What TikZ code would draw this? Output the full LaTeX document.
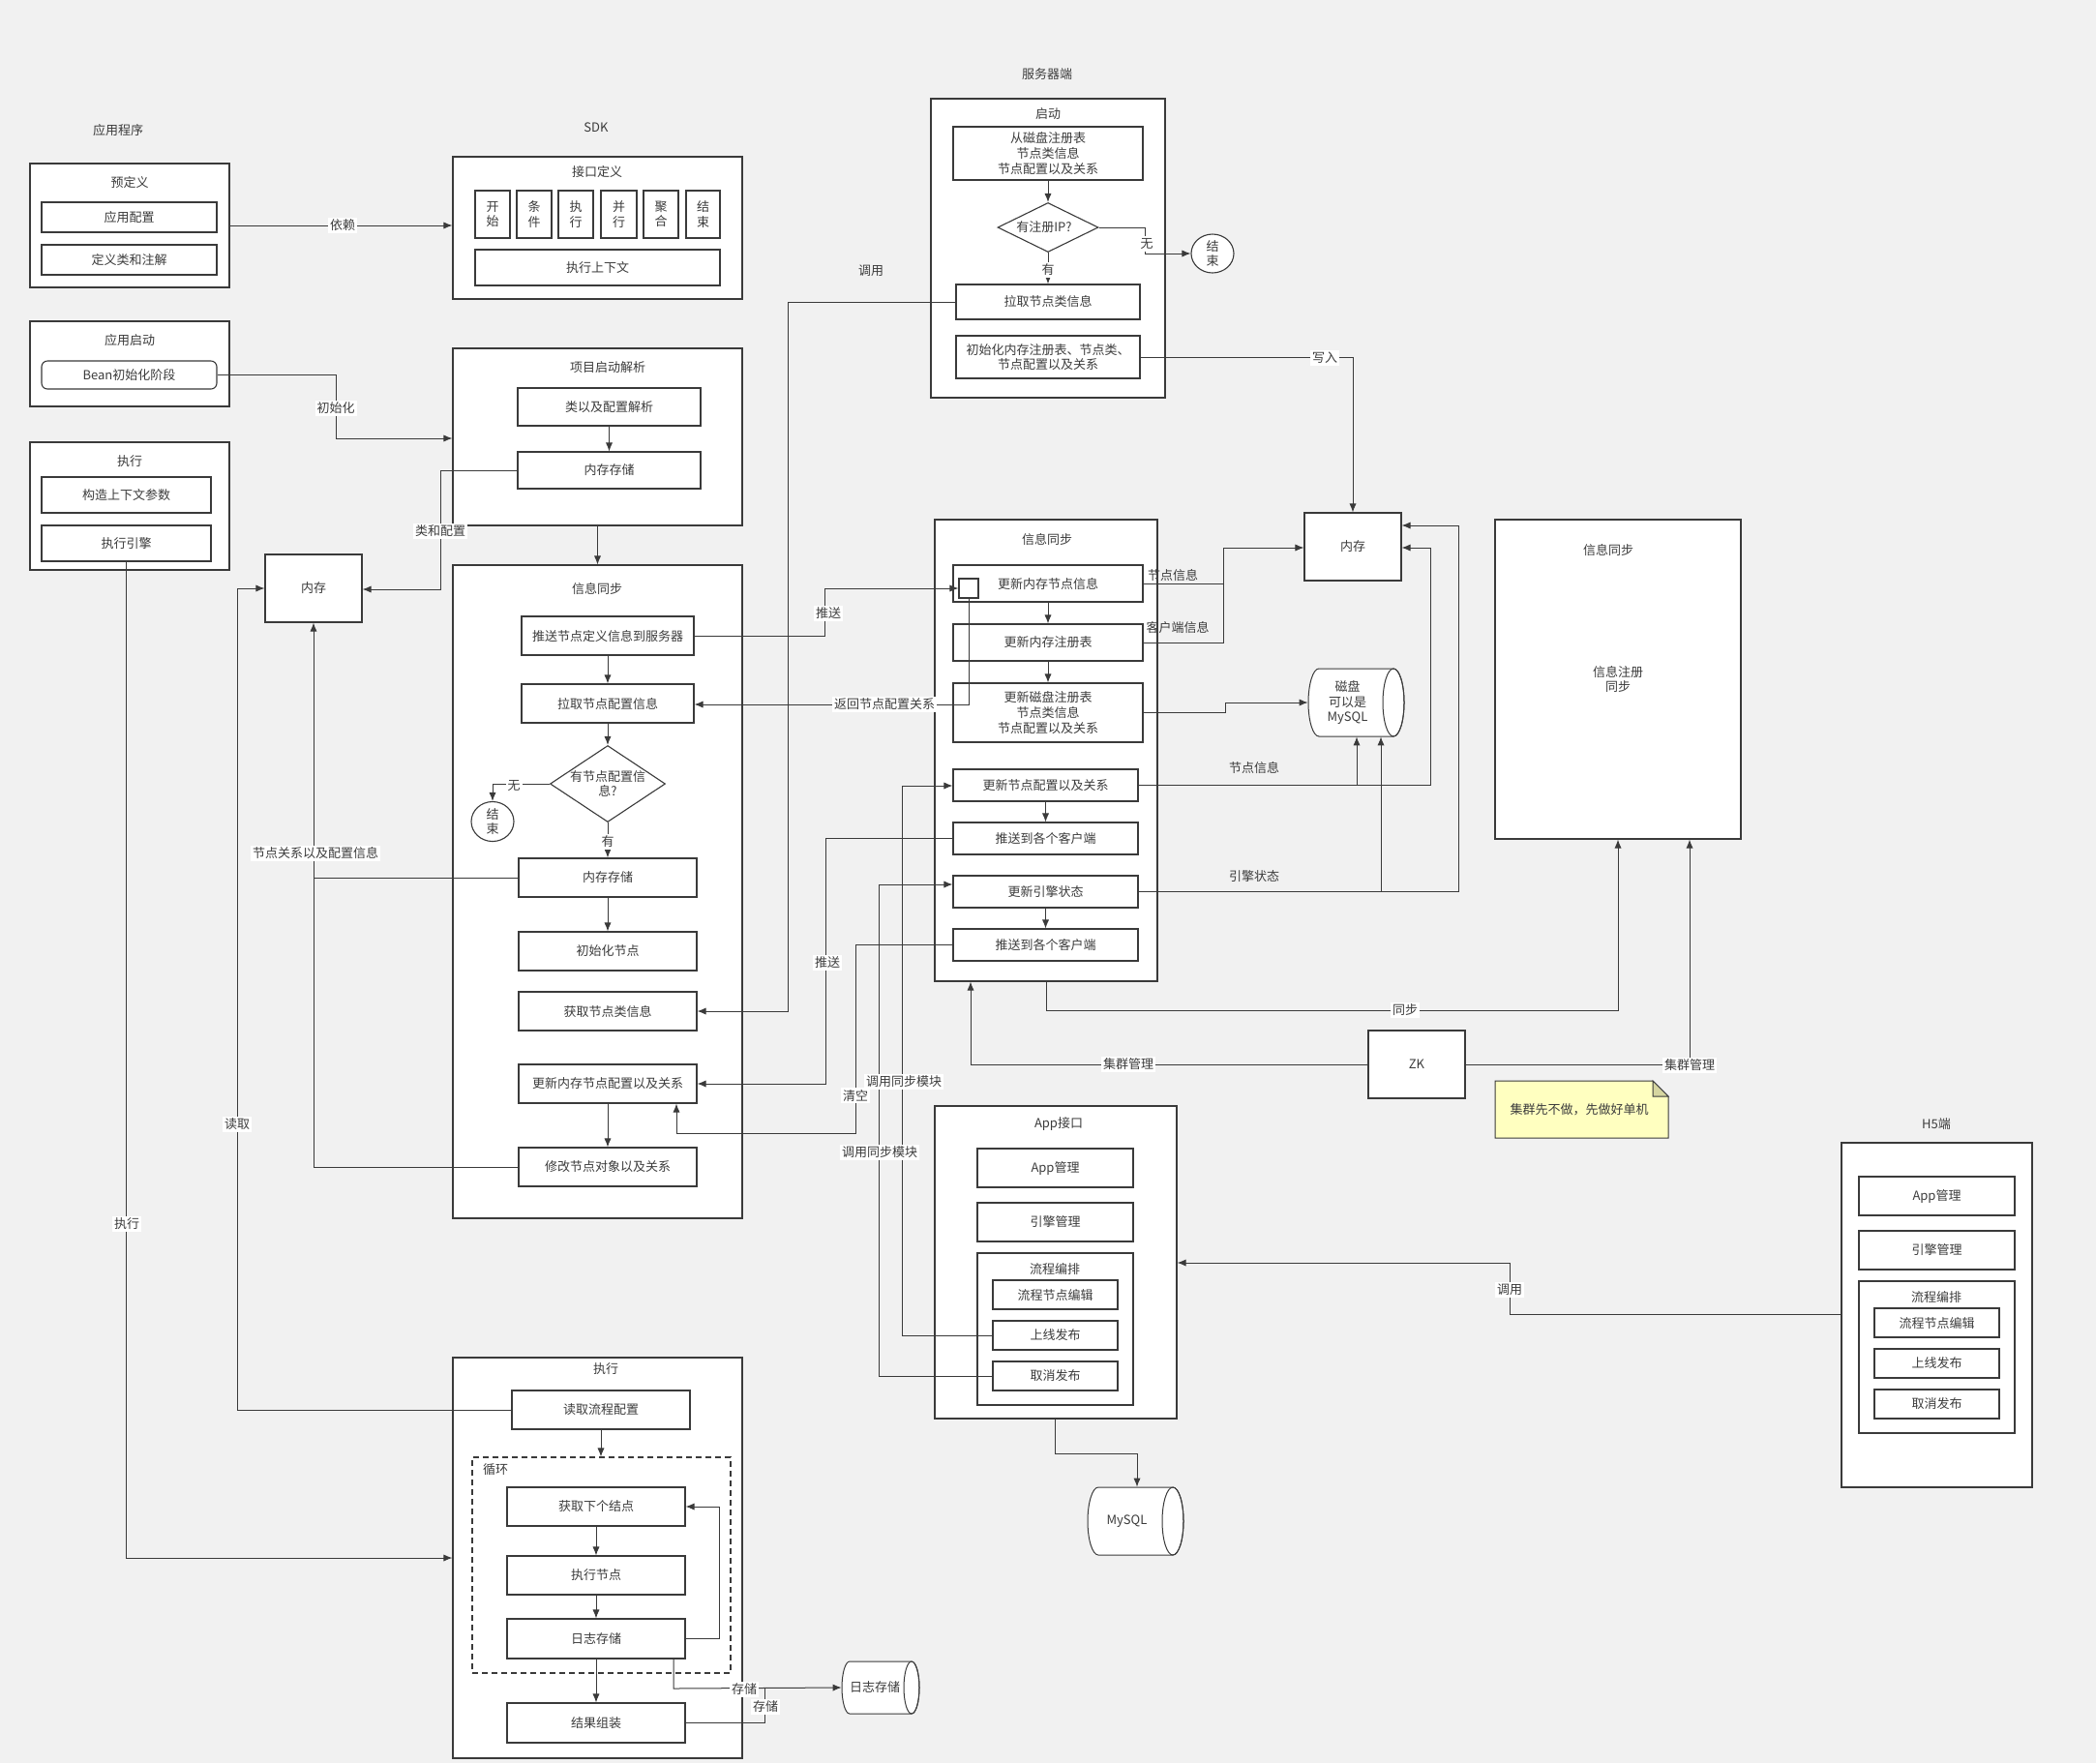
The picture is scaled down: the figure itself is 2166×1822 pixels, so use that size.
\documentclass[tikz,border=0pt]{standalone}
\usepackage{fontspec}
\newfontfamily\cjk{Noto Sans CJK SC}
\usetikzlibrary{arrows.meta,shapes.geometric}
\definecolor{bg}{HTML}{F1F1F1}
\definecolor{lc}{HTML}{3A3A3A}
\definecolor{tc}{HTML}{3C3C3C}
\definecolor{notefill}{HTML}{FFFFC0}
\definecolor{notefold}{HTML}{D6D6A0}
\newcommand{\mybox}[7][]{\node[box,minimum width={(#5-#3)*0.5pt},minimum height={(#6-#4)*0.5pt},#1] (#2) at ({(#3+#5)/2},{(#4+#6)/2}) {#7};}
\newcommand{\mycyl}[7]{%
 \node[inner sep=0pt,minimum width={(#4-#2)*0.5pt},minimum height={(#5-#3)*0.5pt}] (#1) at ({(#2+#4)/2},{(#3+#5)/2}) {};
 \draw[con,fill=white] ({#4-#7},#3) -- ({#2+#7},#3) arc[start angle=90,end angle=270,x radius={#7*0.5pt},y radius={(#5-#3)*0.25pt}] -- ({#4-#7},#5) arc[start angle=270,end angle=450,x radius={#7*0.5pt},y radius={(#5-#3)*0.25pt}] -- cycle;
 \draw[con] ({#4-#7},{(#3+#5)/2}) ellipse[x radius={#7*0.5pt},y radius={(#5-#3)*0.25pt}];
 \node[ttl] (#1T) at ({(#2+#4)/2-#7+2},{(#3+#5)/2}) {#6};
}
\begin{document}
\begin{tikzpicture}[x=0.5pt,y=-0.5pt,
 every node/.style={font=\cjk\fontsize{6.5pt}{7.8pt}\selectfont,text=tc},
 box/.style={draw=lc,fill=white,line width=0.55pt,inner sep=1pt,align=center},
 ttl/.style={inner sep=1pt,align=center},
 lbl/.style={fill=white,inner sep=1pt,align=center},
 con/.style={draw=lc,line width=0.5pt},
 arr/.style={con,-{Latex[length=4.5pt,width=3.6pt]}},
 dia/.style={draw=lc,fill=white,line width=0.55pt,shape=diamond,inner sep=0pt},
 endc/.style={draw=lc,fill=white,line width=0.55pt,shape=ellipse,inner sep=0pt}]
\fill[bg] (0,0) rectangle (2166,1822);
\useasboundingbox (0,0) rectangle (2166,1822);

% ---------- application ----------
\node[ttl] (appT) at (122,135) {应用程序};
\mybox{ydy}{31}{169}{237}{297}{}
\node[ttl] (ydyT) at (134,189) {预定义};
\mybox{yypz}{43}{209}{224}{240}{应用配置}
\mybox{dylzj}{43}{253}{224}{284}{定义类和注解}
\mybox{yyqd}{31}{332}{237}{420}{}
\node[ttl] (yyqdT) at (134,352) {应用启动};
\mybox[rounded corners=3pt]{bean}{43}{373}{224}{402}{Bean初始化阶段}
\mybox{zxL}{31}{457}{237}{589}{}
\node[ttl] (zxLT) at (134,477) {执行};
\mybox{gzsx}{43}{493}{218}{530}{构造上下文参数}
\mybox{zxyq}{43}{543}{218}{580}{执行引擎}
\mybox{ncL}{274}{573}{374}{643}{内存}

% ---------- SDK ----------
\node[ttl] (sdkT) at (616,132) {SDK};
\mybox{jkdy}{468}{162}{767}{309}{}
\node[ttl] (jkdyT) at (617,178) {接口定义};
\mybox{ks}{491}{197}{527}{246}{开\\始}
\mybox{tj}{534}{197}{570}{246}{条\\件}
\mybox{zx}{577}{197}{613}{246}{执\\行}
\mybox{bx}{621}{197}{658}{246}{并\\行}
\mybox{jh}{665}{197}{701}{246}{聚\\合}
\mybox{js}{709}{197}{744}{246}{结\\束}
\mybox{zxsxw}{491}{258}{744}{295}{执行上下文}
\mybox{xmqd}{468}{360}{767}{543}{}
\node[ttl] (xmqdT) at (628,380) {项目启动解析};
\mybox{lyjpz}{535}{401}{724}{440}{类以及配置解析}
\mybox{nccA}{535}{467}{724}{505}{内存存储}
\mybox{xxtbL}{468}{584}{767}{1259}{}
\node[ttl] (xxtbLT) at (617,608) {信息同步};
\mybox{tsjd}{539}{637}{717}{677}{推送节点定义信息到服务器}
\mybox{lqpz}{539}{707}{717}{747}{拉取节点配置信息}
\node[dia,minimum width=59.5pt,minimum height=39.5pt] (diaL) at (628,810) {};
\node[ttl] (diaLT) at (628,810) {有节点配置信\\息?};
\node[endc,minimum width=22pt,minimum height=20.5pt] (endL) at (509,849) {};
\node[ttl] (endLT) at (509,849) {结\\束};
\mybox{nccB}{536}{887}{720}{927}{内存存储}
\mybox{cshjd}{536}{963}{720}{1003}{初始化节点}
\mybox{hqlx}{536}{1025}{720}{1065}{获取节点类信息}
\mybox{gxnc}{536}{1100}{720}{1140}{更新内存节点配置以及关系}
\mybox{xgjd}{536}{1186}{720}{1226}{修改节点对象以及关系}

% ---------- execute ----------
\mybox{zxB}{468}{1403}{767}{1817}{}
\node[ttl] (zxBT) at (626,1415) {执行};
\mybox{dqlc}{529}{1437}{713}{1477}{读取流程配置}
\mybox[dashed,dash pattern=on 3pt off 2pt]{xh}{488}{1506}{755}{1729}{}
\node[ttl] (xhT) at (512,1519) {循环};
\mybox{hqxg}{524}{1537}{708}{1577}{获取下个结点}
\mybox{zxjd}{524}{1608}{708}{1648}{执行节点}
\mybox{rzcc}{524}{1673}{708}{1714}{日志存储}
\mybox{jgzz}{524}{1760}{708}{1801}{结果组装}
\mycyl{logdb}{870}{1717}{950}{1771}{日志存储}{8}

% ---------- server ----------
\node[ttl] (fwqT) at (1082,77) {服务器端};
\mybox{qd}{962}{102}{1204}{411}{}
\node[ttl] (qdT) at (1083,118) {启动};
\mybox{cpzc}{985}{131}{1181}{186}{从磁盘注册表\\节点类信息\\节点配置以及关系}
\node[dia,minimum width=52pt,minimum height=25.5pt] (diaS) at (1083,235) {};
\node[ttl] (diaST) at (1079,235) {有注册IP?};
\node[endc,minimum width=22pt,minimum height=20pt] (endS) at (1253,262) {};
\node[ttl] (endST) at (1253,262) {结\\束};
\mybox{lqlx}{988}{294}{1178}{330}{拉取节点类信息}
\mybox{csh}{988}{347}{1178}{391}{初始化内存注册表、节点类、\\节点配置以及关系}

\mybox{xxtbS}{966}{537}{1196}{1014}{}
\node[ttl] (xxtbST) at (1082,557) {信息同步};
\mybox{gxncS}{985}{584}{1181}{622}{更新内存节点信息}
\mybox[inner sep=0pt]{sq}{991}{598}{1011}{618}{}
\mybox{gxzcb}{985}{645}{1181}{683}{更新内存注册表}
\mybox{gxcp}{985}{706}{1181}{767}{更新磁盘注册表\\节点类信息\\节点配置以及关系}
\mybox{gxpz}{985}{795}{1176}{828}{更新节点配置以及关系}
\mybox{tsA}{985}{850}{1176}{883}{推送到各个客户端}
\mybox{gxyq}{985}{905}{1176}{938}{更新引擎状态}
\mybox{tsB}{985}{960}{1176}{993}{推送到各个客户端}
\mybox{ncR}{1348}{530}{1448}{600}{内存}
\mycyl{disk}{1352}{691}{1451}{761}{磁盘\\可以是\\MySQL}{11}
\mybox{xxR}{1545}{537}{1799}{867}{}
\node[ttl] (xxRT) at (1662,568) {信息同步};
\node[ttl] (xxRC) at (1672,702) {信息注册\\同步};
\mybox{zk}{1414}{1065}{1514}{1135}{ZK}
\node[inner sep=0pt,minimum width=89.5pt,minimum height=29.5pt] (note) at (1634.5,1146.5) {};
\draw[con,fill=notefill] (1545,1117) -- (1708,1117) -- (1724,1133) -- (1724,1176) -- (1545,1176) -- cycle;
\draw[con,fill=notefold] (1708,1117) -- (1708,1133) -- (1724,1133) -- cycle;
\node[ttl] (noteT) at (1632,1147) {集群先不做，先做好单机};

% ---------- App interface ----------
\mybox{app}{966}{1143}{1216}{1466}{}
\node[ttl] (appIT) at (1094,1162) {App接口};
\mybox{appgl}{1010}{1187}{1171}{1227}{App管理}
\mybox{yqgl}{1010}{1243}{1171}{1283}{引擎管理}
\mybox{lcbp}{1010}{1295}{1171}{1452}{}
\node[ttl] (lcbpT) at (1090,1311) {流程编排};
\mybox{lcjd}{1026}{1323}{1155}{1353}{流程节点编辑}
\mybox{sxfb}{1026}{1365}{1155}{1395}{上线发布}
\mybox{qxfb}{1026}{1407}{1155}{1437}{取消发布}
\mycyl{mysql}{1124}{1537}{1223}{1607}{MySQL}{11}

% ---------- H5 ----------
\node[ttl] (h5T) at (2001,1162) {H5端};
\mybox{h5}{1903}{1181}{2100}{1537}{}
\mybox{happ}{1921}{1216}{2082}{1256}{App管理}
\mybox{hyq}{1921}{1272}{2082}{1312}{引擎管理}
\mybox{hlc}{1921}{1324}{2082}{1481}{}
\node[ttl] (hlcT) at (2001,1340) {流程编排};
\mybox{hlcjd}{1937}{1352}{2066}{1382}{流程节点编辑}
\mybox{hsx}{1937}{1394}{2066}{1424}{上线发布}
\mybox{hqx}{1937}{1436}{2066}{1466}{取消发布}

% ---------- connectors ----------
\draw[arr] (ydy.east) -- (ydy.east -| jkdy.west);
\draw[arr] (bean.east) -- (347,387.5) -- (347,453) -- (xmqd.west |- 0,453);
\draw[arr] (lyjpz) -- (nccA);
\draw[arr] (nccA.west) -- (455,486) -- (455,609) -- (ncL.east |- 0,609);
\draw[arr] (xmqd.south) -- (xxtbL.north);
\draw[arr] (tsjd) -- (lqpz);
\draw[arr] (lqpz) -- (diaL);
\draw[arr] (diaL.west) -- (509,810) -- (endL.north);
\draw[arr] (diaL.south) -- (nccB.north);
\draw[arr] (nccB) -- (cshjd);
\draw[arr] (gxnc) -- (xgjd);
\draw[arr] (nccB.west) -| (ncL.south);
\draw[con] (xgjd.west) -- (324,1206) -- (324,907);
\draw[arr] (dqlc.west) -- (245,1457) -- (245,608) -- (ncL.west |- 0,608);
\draw[arr] (zxyq.south) -- (130.5,1610) -- (zxB.west |- 0,1610);
\draw[arr] (tsjd.east) -- (852,657) -- (852,608) -- (sq.west);
\draw[arr] (sq.south) -- (1001,728) -- (lqpz.east |- 0,728);
\draw[arr] (lqlx.west) -- (814,312) -- (814,1045) -- (hqlx.east |- 0,1045);
\draw[arr] (csh.east) -| (ncR.north);
\draw[arr] (cpzc) -- (diaS);
\draw[arr] (diaS) -- (lqlx);
\draw[arr] (diaS.east) -- (1183,235) -- (1183,262) -- (endS.west);
\draw[arr] (gxncS) -- (gxzcb);
\draw[arr] (gxzcb) -- (gxcp);
\draw[arr] (gxpz) -- (tsA);
\draw[arr] (gxyq) -- (tsB);
\draw[arr] (gxncS.east) -- (1264,603) -- (1264,566) -- (ncR.west |- 0,566);
\draw[con] (gxzcb.east) -- (1264,664) -- (1264,603);
\draw[arr] (gxcp.east) -- (1266,736.5) -- (1266,726) -- (disk.west |- 0,726);
\coordinate (brA) at (1402,811.5);
\coordinate (brB) at (1427,921.5);
\draw[arr] (gxpz.east) -- (1478,811.5) -- (1478,566) -- (ncR.east |- 0,566);
\draw[arr] (brA) -- (disk.south -| brA);
\draw[arr] (gxyq.east) -- (1507,921.5) -- (1507,543) -- (ncR.east |- 0,543);
\draw[arr] (brB) -- (disk.south -| brB);
\draw[arr] (tsA.west) -- (853,866.5) -- (853,1120) -- (gxnc.east);
\draw[arr] (tsB.west) -- (884,976.5) -- (884,1171) -- (699,1171) -- (gxnc.south -| 699,0);
\draw[arr] (sxfb.west) -- (932,1380) -- (932,812) -- (gxpz.west |- 0,812);
\draw[arr] (qxfb.west) -- (908,1422) -- (908,914) -- (gxyq.west |- 0,914);
\draw[arr] (xxtbS.south) -- (1081,1044) -- (1672,1044) -- (xxR.south -| 1672,0);
\draw[arr] (zk.west) -- (1003,1100) -- (xxtbS.south -| 1003,0);
\draw[arr] (zk.east) -- (1746,1100) -- (xxR.south -| 1746,0);
\draw[arr] (h5.west |- 0,1358) -- (1560,1358) -- (1560,1305) -- (app.east |- 0,1305);
\draw[arr] (app.south -| 1090,0) -- (1090,1502) -- (1175,1502) -- (mysql.north -| 1175,0);
\draw[arr] (dqlc.south) -- (xh.north -| dqlc.south);
\draw[arr] (hqxg) -- (zxjd);
\draw[arr] (zxjd) -- (rzcc);
\draw[arr] (rzcc) -- (jgzz);
\draw[arr] (rzcc.east) -- (743,1693.5) -- (743,1557) -- (hqxg.east);
\draw[arr] (rzcc.south -| 696,0) -- (696,1745) -- (logdb.west);
\draw[con] (jgzz.east) -- (790,1780.5) -- (790,1745);

% ---------- labels ----------
\node[lbl] (L1) at (354,233) {依赖};
\node[lbl] (L2) at (347,422) {初始化};
\node[lbl] (L3) at (455,549) {类和配置};
\node[lbl] (L4) at (326,882) {节点关系以及配置信息};
\node[lbl] (L5) at (245,1162) {读取};
\node[lbl] (L6) at (131,1265) {执行};
\node[lbl] (L7) at (856,634) {推送};
\node[lbl] (L8) at (855,995) {推送};
\node[lbl] (L9) at (914,728) {返回节点配置关系};
\node[ttl] (L10) at (900,280) {调用};
\node[lbl] (L11) at (1369,370) {写入};
\node[ttl] (L12) at (1212,594) {节点信息};
\node[ttl] (L13) at (1217,649) {客户端信息};
\node[ttl] (L14) at (1296,793) {节点信息};
\node[ttl] (L15) at (1296,906) {引擎状态};
\node[lbl] (L16) at (884,1132) {清空};
\node[lbl] (L17) at (934,1118) {调用同步模块};
\node[lbl] (L18) at (909,1191) {调用同步模块};
\node[lbl] (L19) at (1452,1044) {同步};
\node[lbl] (L20) at (1166,1100) {集群管理};
\node[lbl] (L21) at (1746,1101) {集群管理};
\node[lbl] (L22) at (1560,1333) {调用};
\node[lbl] (L23) at (769,1746) {存储};
\node[lbl] (L24) at (791,1764) {存储};
\node[lbl] (L25) at (531,812) {无};
\node[lbl] (L26) at (628,870) {有};
\node[lbl] (L27) at (1185,252) {无};
\node[lbl] (L28) at (1083,279) {有};
\end{tikzpicture}
\end{document}
